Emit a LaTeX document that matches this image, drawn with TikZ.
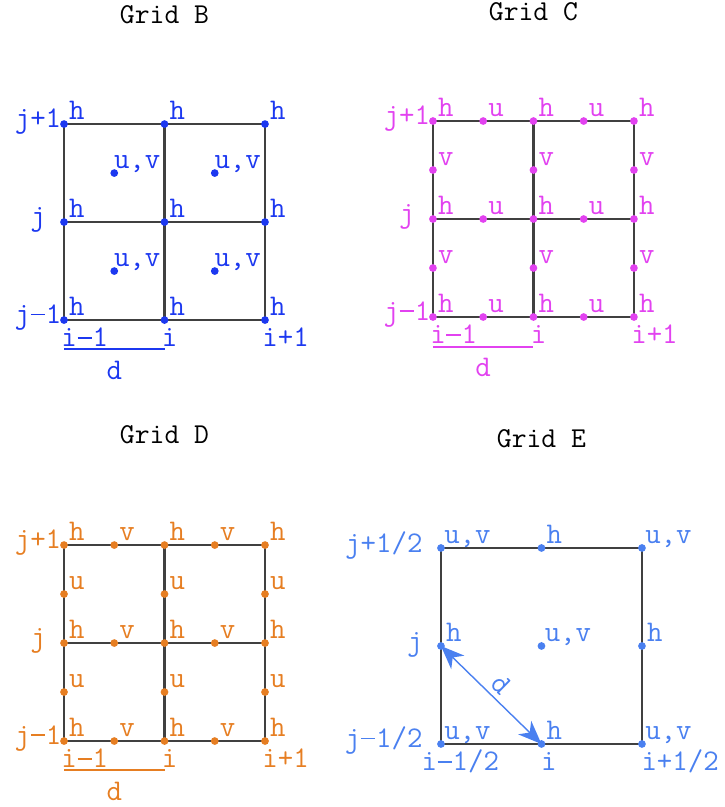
\documentclass[tikz,border=0pt]{standalone}
\usepackage{fontspec}
\usetikzlibrary{arrows.meta}
\definecolor{colB}{RGB}{28,56,240}
\definecolor{colC}{RGB}{226,66,240}
\definecolor{colD}{RGB}{230,126,34}
\definecolor{colE}{RGB}{74,128,240}
\definecolor{edge}{RGB}{64,64,64}
\newcommand{\mns}{\makebox[0.525em]{\rule[0.27em]{0.48em}{0.05em}}}
\tikzset{
  gridline/.style={draw=edge,line width=0.95pt},
  dot/.style={circle,fill,inner sep=0pt,minimum size=3.3pt},
  var/.style={anchor=base west,inner sep=0pt,xshift=2pt,yshift=2pt},
  rowlab/.style={anchor=base,inner sep=0pt,xshift=-11.1pt,yshift=-1.3pt},
  collab/.style={anchor=base west,inner sep=0pt,xshift=-1.3pt,yshift=-11.5pt},
  gridtitle/.style={text=black,font=\ttfamily\fontsize{12.3}{14}\selectfont},
  dline/.style={line width=0.55pt},
  gtip/.tip={Stealth[length=10pt,width=8pt,inset=3pt]}
}
\begin{document}
\begin{tikzpicture}[x=1.5075cm,y=1.47cm,font=\ttfamily\fontsize{12.8}{14}\selectfont]
\useasboundingbox (0,0) rectangle (7.214,8.235);

\begin{scope}[shift={(0.637,4.969)},colB]
  \node[gridtitle] (titleB) at (1,3.12) {Grid B};
  \foreach \x in {0,1,2} \foreach \y in {0,1,2} \coordinate (B\x\y) at (\x,\y);
  \foreach \y in {0,1,2} \draw[gridline] (B0\y) -- (B2\y);
  \foreach \x in {0,1,2} \draw[gridline] (B\x0) -- (B\x2);
  \foreach \x in {0,1,2} \foreach \y in {0,1,2} {
    \node[dot] (Bh\x\y) at (B\x\y) {};
    \node[var] (Bhl\x\y) at (B\x\y) {h};
  }
  \foreach \x in {0,1} \foreach \y in {0,1} {
    \node[dot] (Buv\x\y) at (\x+0.5,\y+0.5) {};
    \node[var,xshift=-2.3pt] (Buvl\x\y) at (Buv\x\y) {u,v};
  }
  \foreach \y/\t in {0/j\mns1,1/j,2/j+1} \node[rowlab] (Bj\y) at (B0\y) {\t};
  \foreach \x/\t in {0/i\mns1,1/i,2/i+1} \node[collab] (Bi\x) at (B\x0) {\t};
  \coordinate (Bdl) at (0,-0.296);
  \coordinate (Bdr) at (1,-0.296);
  \draw[dline] (Bdl) -- (Bdr);
  \node[anchor=base,inner sep=0pt] (Bd) at (0.5,-0.602) {d};
\end{scope}

\begin{scope}[shift={(4.308,5.0)},colC]
  \node[gridtitle] (titleC) at (1,3.12) {Grid C};
  \foreach \x in {0,1,2} \foreach \y in {0,1,2} \coordinate (C\x\y) at (\x,\y);
  \foreach \y in {0,1,2} \draw[gridline] (C0\y) -- (C2\y);
  \foreach \x in {0,1,2} \draw[gridline] (C\x0) -- (C\x2);
  \foreach \x in {0,1,2} \foreach \y in {0,1,2} {
    \node[dot] (Ch\x\y) at (C\x\y) {};
    \node[var] (Chl\x\y) at (C\x\y) {h};
  }
  \foreach \x in {0,1} \foreach \y in {0,1,2} {
    \node[dot] (Cu\x\y) at (\x+0.5,\y) {};
    \node[var] (Cul\x\y) at (Cu\x\y) {u};
  }
  \foreach \x in {0,1,2} \foreach \y in {0,1} {
    \node[dot] (Cv\x\y) at (\x,\y+0.5) {};
    \node[var] (Cvl\x\y) at (Cv\x\y) {v};
  }
  \foreach \y/\t in {0/j\mns1,1/j,2/j+1} \node[rowlab] (Cj\y) at (C0\y) {\t};
  \foreach \x/\t in {0/i\mns1,1/i,2/i+1} \node[collab] (Ci\x) at (C\x0) {\t};
  \coordinate (Cdl) at (0,-0.306);
  \coordinate (Cdr) at (1,-0.306);
  \draw[dline] (Cdl) -- (Cdr);
  \node[anchor=base,inner sep=0pt] (Cd) at (0.5,-0.612) {d};
\end{scope}

\begin{scope}[shift={(0.637,0.673)},colD]
  \node[gridtitle] (titleD) at (1,3.13) {Grid D};
  \foreach \x in {0,1,2} \foreach \y in {0,1,2} \coordinate (D\x\y) at (\x,\y);
  \foreach \y in {0,1,2} \draw[gridline] (D0\y) -- (D2\y);
  \foreach \x in {0,1,2} \draw[gridline] (D\x0) -- (D\x2);
  \foreach \x in {0,1,2} \foreach \y in {0,1,2} {
    \node[dot] (Dh\x\y) at (D\x\y) {};
    \node[var] (Dhl\x\y) at (D\x\y) {h};
  }
  \foreach \x in {0,1} \foreach \y in {0,1,2} {
    \node[dot] (Dv\x\y) at (\x+0.5,\y) {};
    \node[var] (Dvl\x\y) at (Dv\x\y) {v};
  }
  \foreach \x in {0,1,2} \foreach \y in {0,1} {
    \node[dot] (Du\x\y) at (\x,\y+0.5) {};
    \node[var] (Dul\x\y) at (Du\x\y) {u};
  }
  \foreach \y/\t in {0/j\mns1,1/j,2/j+1} \node[rowlab] (Dj\y) at (D0\y) {\t};
  \foreach \x/\t in {0/i\mns1,1/i,2/i+1} \node[collab] (Di\x) at (D\x0) {\t};
  \coordinate (Ddl) at (0,-0.296);
  \coordinate (Ddr) at (1,-0.296);
  \draw[dline] (Ddl) -- (Ddr);
  \node[anchor=base,inner sep=0pt] (Dd) at (0.5,-0.602) {d};
\end{scope}

\begin{scope}[shift={(4.388,0.643)},colE]
  \node[gridtitle] (titleE) at (1,3.12) {Grid E};
  \foreach \x in {0,2} \foreach \y in {0,2} \coordinate (E\x\y) at (\x,\y);
  \draw[gridline] (E00) -- (E20) -- (E22) -- (E02) -- cycle;
  \foreach \x in {0,2} \foreach \y in {0,2} {
    \node[dot] (Euv\x\y) at (E\x\y) {};
    \node[var,xshift=-0.8pt] (Euvl\x\y) at (E\x\y) {u,v};
  }
  \node[dot] (Euvc) at (1,1) {};
  \node[var,xshift=-0.8pt] (Euvcl) at (Euvc) {u,v};
  \foreach \n/\p in {b/{(1,0)},t/{(1,2)},l/{(0,1)},r/{(2,1)}} {
    \node[dot] (Eh\n) at \p {};
    \node[var] (Ehl\n) at (Eh\n) {h};
  }
  \node[anchor=base east,inner sep=0pt,xshift=-7.7pt,yshift=-2pt] (Ej2) at (E02) {j+1/2};
  \node[anchor=base east,inner sep=0pt,xshift=-7.7pt,yshift=-2pt] (Ej1) at (Ehl) {j};
  \node[anchor=base east,inner sep=0pt,xshift=-7.7pt,yshift=-1.5pt] (Ej0) at (E00) {j\mns1/2};
  \node[collab,xshift=-7.2pt] (Ei0) at (E00) {i\mns1/2};
  \node[collab,xshift=0.9pt] (Ei1) at (Ehb) {i};
  \node[collab,xshift=0.9pt] (Ei2) at (E20) {i+1/2};
  \draw[gtip-gtip,line width=0.6pt]
    (Ehl.center) -- node[sloped,above,inner sep=2pt] (Ed) {d} (Ehb.center);
\end{scope}
\end{tikzpicture}
\end{document}
